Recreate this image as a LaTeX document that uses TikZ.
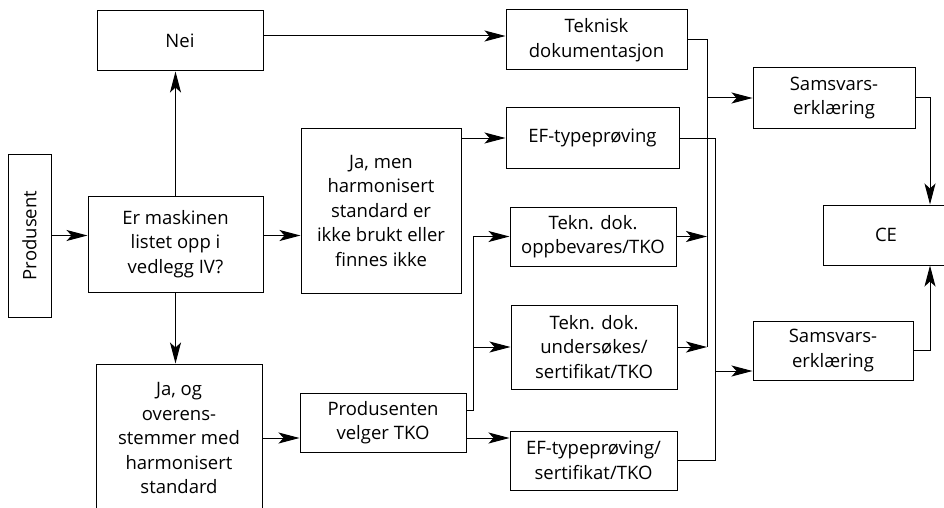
\documentclass[tikz,border=0pt]{standalone}
\usepackage{fontspec}
\setmainfont{Open Sans}
\usetikzlibrary{arrows.meta}

\tikzset{
	box/.style={draw, line width=1pt, inner sep=0pt, align=center},
	arr/.style={-{Stealth[length=21pt,width=11pt,inset=5pt]}}
}

\begin{document}
\begin{tikzpicture}[x=1pt, y=-1pt, line width=1pt, font=\fontsize{18.5}{24.5}\selectfont]
	\useasboundingbox (0,0) rectangle (944,508);
	\clip (0,0) rectangle (944,508);

	\node[box, rotate=90, minimum width=163pt, minimum height=43pt] (prod) at (29.5,235.5) {Produsent};
	\node[box, minimum width=175pt, minimum height=96pt] (er) at (175.5,244) {Er maskinen\\listet opp i\\vedlegg IV?};
	\node[box, minimum width=166pt, minimum height=60pt] (nei) at (180,41) {Nei};
	\node[box, minimum width=166pt, minimum height=148pt] (jaog) at (179,438) {Ja, og\\overens-\\stemmer med\\harmonisert\\standard};
	\node[box, minimum width=160pt, minimum height=165pt] (jamen) at (381,210.5) {Ja, men\\harmonisert\\standard er\\ikke brukt eller\\finnes ikke};
	\node[box, minimum width=166pt, minimum height=59pt] (prodtko) at (383,422.5) {Produsenten\\velger TKO};

	\node[box, minimum width=181pt, minimum height=60pt] (tekdok) at (596.5,40) {Teknisk\\dokumentasjon};
	\node[box, minimum width=173pt, minimum height=60pt] (eftype) at (592.5,138) {EF-typeprøving};
	\node[box, minimum width=166pt, minimum height=59pt] (oppb) at (593,236.5) {Tekn. dok.\\oppbevares/TKO};
	\node[box, minimum width=166pt, minimum height=84pt] (unders) at (594,347) {Tekn. dok.\\undersøkes/\\sertifikat/TKO};
	\node[box, minimum width=167pt, minimum height=59pt] (efsert) at (593.5,460.5) {EF-typeprøving/\\sertifikat/TKO};

	\node[box, minimum width=162pt, minimum height=60pt] (sams1) at (834,98) {Samsvars-\\erklæring};
	\node[box, minimum width=160pt, minimum height=59pt] (sams2) at (833,350.5) {Samsvars-\\erklæring};
	\node[box, minimum width=126pt, minimum height=60pt] (ce) at (886,235) {CE};

	\coordinate (v) at (473,0);
	\coordinate (a) at (707,0);
	\coordinate (b) at (715,0);
	\coordinate (c) at (930,0);

	\draw[arr] (prod) -- (prod -| er.west);
	\draw[arr] (er.east |- prod) -- (jamen.west |- prod);
	\draw[arr] (er.north) -- (er.north |- nei.south);
	\draw[arr] (er.south) -- (er.south |- jaog.north);
	\draw[arr] ([yshift=5pt]nei.east) -- ([yshift=4pt]tekdok.west);
	\draw[arr] (eftype -| jamen.east) -- (eftype);
	\draw[arr] (jaog) -- (jaog -| prodtko.west);
	\draw[arr] (prodtko.east |- jaog) -- (efsert.west |- jaog);
	\draw[arr] ([yshift=12.5pt]prodtko.east) -| (v |- oppb) -- (oppb);
	\draw[arr] (v |- unders) -- (unders);

	\draw (tekdok) -| (a |- unders);
	\draw[arr] (oppb) -- (a |- oppb);
	\draw[arr] (unders) -- (a |- unders);
	\draw[arr] (a |- sams1) -- (sams1);

	\draw (eftype) -| (b |- efsert) -- (efsert);
	\draw[arr] ([yshift=-20.5pt]sams2.west -| b) -- ([yshift=-20.5pt]sams2.west);

	\draw[arr] (sams1) -| (c |- ce.north);
	\draw[arr] (sams2) -| (c |- ce.south);
\end{tikzpicture}
\end{document}
